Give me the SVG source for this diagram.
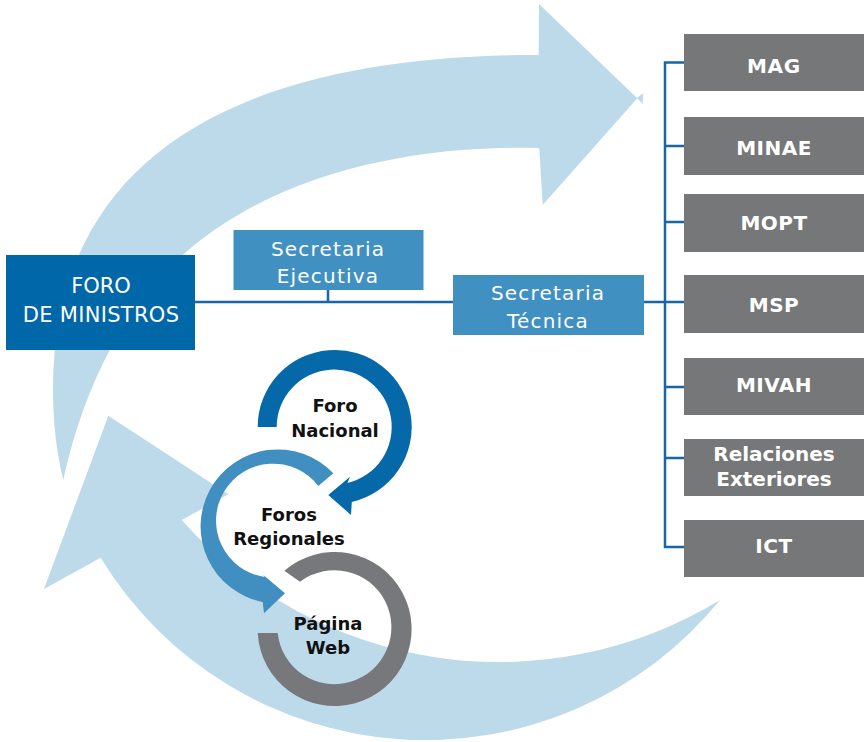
<svg xmlns="http://www.w3.org/2000/svg" width="864" height="742" viewBox="0 0 864 742">
  <style>
    .flow { fill: #BDDAEB; }
    .conn { fill: none; stroke: #1766A8; stroke-width: 2.5; }
    .grey { fill: #767779; }
    .sec { fill: #4190C2; }
    .wt { font-family: "DejaVu Sans", "Liberation Sans", sans-serif; fill: #FFFFFF; font-size: 20px; text-anchor: middle; }
    .wb { font-family: "DejaVu Sans", "Liberation Sans", sans-serif; fill: #FFFFFF; font-size: 20px; font-weight: bold; text-anchor: middle; }
    .bk { font-family: "DejaVu Sans", "Liberation Sans", sans-serif; fill: #111111; font-size: 18px; font-weight: bold; text-anchor: middle; }
  </style>
  <rect width="864" height="742" fill="#FFFFFF"/>

  <g id="cycle-arrows">
    <path class="flow" d="M63.3,480 C56,450 53,420 53,390 C53,168.9 217.9,55 538.7,55 L539,4 L637.3,98.3 L542.7,205 L539.3,149.3 L538.7,148 C420,145 280,170 185,253 C130,300 85,380 63.3,480 Z"/>
    <polygon class="flow" points="637,98 643,93 642.7,104"/>
    <path class="flow" d="M720,600 A380,380 0 0 1 100.7,557.7 L44,589 L108.3,415.7 L228.3,494.3 L181.7,520 A425,425 0 0 0 720,600 Z"/>
  </g>

  <g id="connectors">
    <path class="conn" d="M195,302 H665"/>
    <path class="conn" d="M328,289 V302"/>
    <path class="conn" d="M685,62.5 H665 V547 H685 M665,146 H685 M665,222 H685 M665,302 H685 M665,387 H685 M665,458 H685"/>
  </g>

  <g id="foro-ministros">
    <rect x="6" y="255" width="189" height="95" fill="#0067A8"/>
    <text class="wt" x="101" y="293" font-size="21" style="font-size:21px">FORO</text>
    <text class="wt" x="101" y="322" style="font-size:21px;letter-spacing:0.3px">DE MINISTROS</text>
  </g>

  <g id="secretaria-ejecutiva">
    <rect class="sec" x="233.5" y="230" width="190" height="60"/>
    <text class="wt" x="328" y="256" style="letter-spacing:1.2px">Secretaria</text>
    <text class="wt" x="328" y="283" style="letter-spacing:1.2px">Ejecutiva</text>
  </g>

  <g id="secretaria-tecnica">
    <rect class="sec" x="453" y="275" width="191" height="60"/>
    <text class="wt" x="548" y="300" style="letter-spacing:1.2px">Secretaria</text>
    <text class="wt" x="548" y="328" style="letter-spacing:1.2px">Técnica</text>
  </g>

  <g id="mag">
    <rect class="grey" x="684" y="34" width="180" height="57"/>
    <text class="wb" x="774" y="73" style="letter-spacing:0.8px">MAG</text>
  </g>
  <g id="minae">
    <rect class="grey" x="684" y="117" width="180" height="58"/>
    <text class="wb" x="774" y="155" style="letter-spacing:0.5px">MINAE</text>
  </g>
  <g id="mopt">
    <rect class="grey" x="684" y="194" width="180" height="58"/>
    <text class="wb" x="774" y="230" style="letter-spacing:0.5px">MOPT</text>
  </g>
  <g id="msp">
    <rect class="grey" x="684" y="275" width="180" height="58"/>
    <text class="wb" x="774" y="312" style="letter-spacing:0.5px">MSP</text>
  </g>
  <g id="mivah">
    <rect class="grey" x="684" y="358" width="180" height="57"/>
    <text class="wb" x="774" y="392" style="letter-spacing:0.5px">MIVAH</text>
  </g>
  <g id="relaciones-exteriores">
    <rect class="grey" x="684" y="439" width="180" height="57"/>
    <text class="wb" x="774" y="461">Relaciones</text>
    <text class="wb" x="774" y="486">Exteriores</text>
  </g>
  <g id="ict">
    <rect class="grey" x="684" y="520" width="180" height="57"/>
    <text class="wb" x="774" y="553" style="letter-spacing:0.5px">ICT</text>
  </g>

  <g id="foro-nacional">
    <path fill="#0568A8" d="M257.7,427 A77,77 0 1 1 351.8,502 L351,515 L328.3,495 L350,476.7 L347.4,483 A57.5,57.5 0 1 0 276.7,427 Z"/>
    <text class="bk" x="335" y="412">Foro</text>
    <text class="bk" x="335" y="437">Nacional</text>
  </g>

  <g id="foros-regionales">
    <path fill="#418FC0" d="M333.3,473.3 A77,77 0 1 0 262.7,602 L264,613.3 L285,593.3 L263.3,575 L264.5,577 A57,57 0 1 1 318.3,486 Z"/>
    <text class="bk" x="289" y="521">Foros</text>
    <text class="bk" x="289" y="545">Regionales</text>
  </g>

  <g id="pagina-web">
    <path fill="#77787B" d="M284.3,570.7 A77,77 0 1 1 257.7,633 L277.7,633 A57,57 0 1 0 300,581.7 Z"/>
    <text class="bk" x="328" y="630">Página</text>
    <text class="bk" x="328" y="654">Web</text>
  </g>
</svg>
